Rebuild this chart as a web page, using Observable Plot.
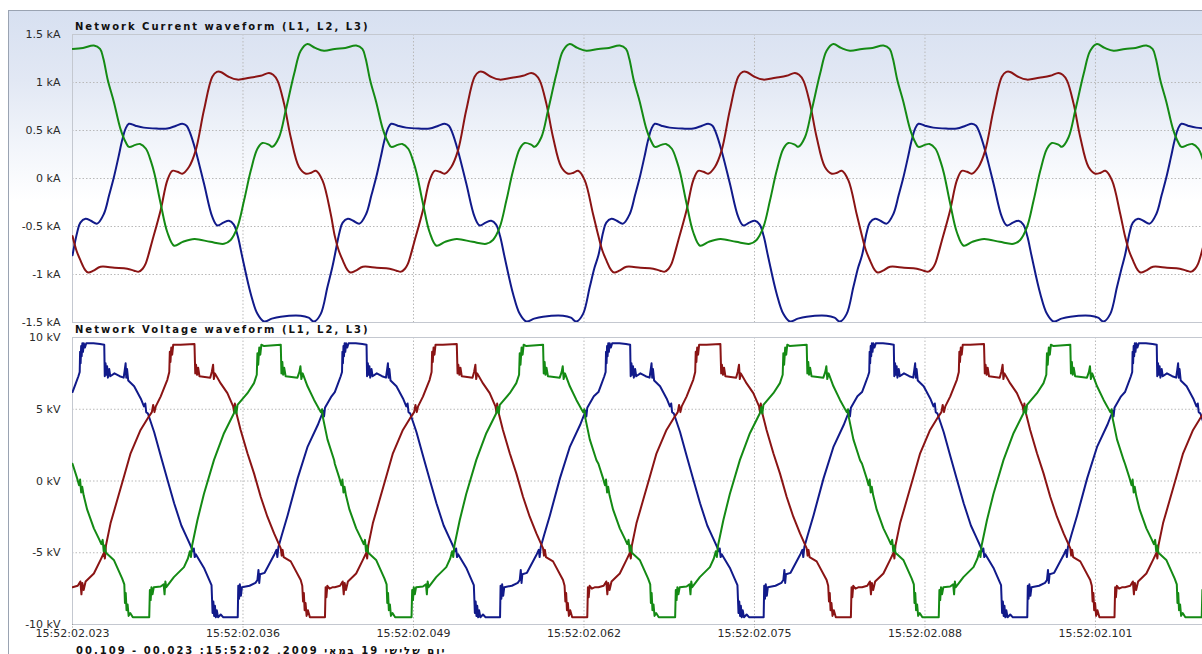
<!DOCTYPE html>
<html><head><meta charset="utf-8">
<script src="https://cdn.jsdelivr.net/npm/d3@7"></script>
<script src="https://cdn.jsdelivr.net/npm/@observablehq/plot@0.6"></script>
<style>
html,body{margin:0;padding:0;background:#fff;overflow:hidden;}
#wrap{position:relative;width:1202px;height:654px;overflow:hidden;background:#fff;}
#inner{position:absolute;left:8px;top:10px;right:0;bottom:0;border-left:1px solid #9aa3b2;border-top:1px solid #9aa3b2;
 background:linear-gradient(to bottom,#d7e0f1 0px,#e2e8f4 70px,#f3f6fb 140px,#ffffff 190px,#ffffff 100%);}
.title{position:absolute;left:75px;font:bold 10px "DejaVu Sans";line-height:12px;letter-spacing:2px;color:#111;white-space:nowrap;}
#footer{position:absolute;left:76px;top:645px;direction:rtl;font:bold 10px "DejaVu Sans";line-height:12px;letter-spacing:2px;color:#111;white-space:nowrap;}
#p1{position:absolute;left:0;top:26px;}
#p2{position:absolute;left:0;top:329px;}
</style>
</head><body>
<div id="wrap">
  <div id="inner"></div>
  <div id="p1"></div>
  <div id="p2"></div>
  <div class="title" style="top:21px">Network Current waveform (L1, L2, L3)</div>
  <div class="title" style="top:324px">Network Voltage waveform (L1, L2, L3)</div>
  <div id="footer">יום שלישי 19 במאי 2009, 15:52:02: 00.023 - 00.109</div>
</div>
<script>
// ---- axes / ticks (ms after 15:52:02) ----
const xDomain = [23, 109.16];
const xTicks = [23, 36, 49, 62, 75, 88, 101];
const kaTicks = [-1.5, -1, -0.5, 0, 0.5, 1, 1.5];
const kvTicks = [-10, -5, 0, 5, 10];
const phases = ["L1", "L2", "L3"];
const phaseColors = ["#111a8a", "#8a1414", "#148a14"];

// start time (ms) of each 50 Hz cycle as seen in the picture
const cycleStarts = [23.0, 43.0, 63.1, 83.2, 103.25];

// ---- current, one cycle per phase: [ms into cycle, kA] ----
const currentL1 = [[0.00,-0.80],[0.36,-0.56],[0.60,-0.46],[0.99,-0.42],[1.40,-0.44],[1.88,-0.47],[2.39,-0.37],[2.80,-0.17],[3.15,0.01],[3.50,0.22],[3.79,0.40],[4.05,0.52],[4.30,0.57],[4.80,0.55],[5.44,0.53],[6.40,0.52],[7.23,0.52],[7.90,0.55],[8.37,0.57],[8.70,0.55],[8.95,0.48],[9.39,0.29],[10.02,-0.05],[10.66,-0.40],[11.05,-0.49],[11.50,-0.46],[11.93,-0.44],[12.30,-0.48],[12.60,-0.60],[12.95,-0.82],[13.59,-1.20],[14.10,-1.41],[14.60,-1.49],[15.20,-1.46],[15.88,-1.44],[17.40,-1.43],[18.00,-1.45],[18.42,-1.49],[18.93,-1.41],[19.44,-1.13],[19.80,-0.93]];
const currentL2 = [[0.00,-0.60],[0.30,-0.75],[0.63,-0.86],[0.95,-0.95],[1.20,-0.98],[1.60,-0.96],[2.14,-0.92],[3.20,-0.93],[4.18,-0.94],[4.70,-0.96],[5.06,-0.97],[5.35,-0.94],[5.57,-0.89],[6.08,-0.65],[6.72,-0.33],[7.23,-0.02],[7.61,0.08],[8.00,0.07],[8.37,0.05],[8.88,0.12],[9.39,0.29],[10.02,0.71],[10.66,1.06],[11.00,1.11],[11.30,1.11],[11.90,1.06],[12.57,1.03],[13.50,1.05],[14.35,1.07],[14.98,1.10],[15.30,1.08],[15.63,1.02],[16.13,0.78],[16.64,0.43],[17.27,0.12],[17.79,0.05],[18.20,0.06],[18.55,0.08],[19.06,-0.02],[19.69,-0.37]];
const currentL3 = [[0.00,1.35],[0.80,1.36],[1.63,1.385],[2.10,1.35],[2.35,1.25],[2.70,1.02],[3.15,0.80],[3.65,0.52],[4.05,0.38],[4.30,0.33],[4.80,0.35],[5.15,0.36],[5.60,0.31],[6.00,0.17],[6.25,0.05],[6.72,-0.26],[7.23,-0.56],[7.75,-0.70],[8.40,-0.66],[9.30,-0.63],[10.50,-0.66],[11.55,-0.68],[12.06,-0.64],[12.57,-0.51],[13.08,-0.23],[13.59,0.08],[14.10,0.31],[14.48,0.37],[15.00,0.35],[15.24,0.33],[15.75,0.43],[16.26,0.71],[16.90,1.09],[17.40,1.33],[17.91,1.40],[18.50,1.36],[19.18,1.33]];

// ---- voltage, one cycle per phase: [ms into cycle, kV] ----
const voltageL1 = [[0.00,6.2],[0.25,6.8],[0.45,7.3],[0.55,7.6],[0.58,9.0],[0.62,8.2],[0.66,9.4],[0.70,8.7],[0.75,9.6],[0.80,9.0],[0.86,9.6],[0.95,9.3],[1.05,9.6],[1.60,9.6],[2.10,9.55],[2.42,9.5],[2.46,7.3],[2.52,8.2],[2.58,7.4],[2.64,8.0],[2.70,7.2],[2.80,7.8],[2.88,7.3],[3.20,7.5],[3.60,7.3],[3.90,7.2],[3.98,7.7],[4.05,8.2],[4.10,7.2],[4.16,7.8],[4.25,7.0],[4.70,6.6],[5.20,5.75],[5.45,5.2],[5.55,5.4],[5.62,4.8],[5.75,4.7],[6.23,3.4],[6.74,1.7],[7.25,0.05],[7.75,-1.55],[8.30,-3.1],[8.75,-4.0],[9.05,-4.6],[9.18,-4.9],[9.25,-4.7],[9.32,-5.3],[9.40,-5.1],[10.05,-6.1],[10.60,-7.25],[10.68,-9.2],[10.74,-8.4],[10.80,-9.4],[10.86,-8.7],[10.93,-9.5],[11.00,-9.0],[11.10,-9.5],[11.30,-9.3],[11.50,-9.5],[12.60,-9.5],[12.64,-7.3],[12.70,-8.2],[12.76,-7.2],[12.84,-8.0],[12.92,-7.4],[13.50,-7.3],[13.95,-7.1],[14.10,-6.9],[14.18,-6.2],[14.24,-7.1],[14.30,-6.5],[14.65,-6.4],[15.40,-5.1],[15.55,-4.8],[15.62,-5.3],[15.70,-4.6],[15.95,-3.8],[16.40,-2.4],[17.17,0.2],[17.93,2.4],[18.70,3.9],[19.00,4.6],[19.10,4.9],[19.18,4.5],[19.25,5.1],[19.75,5.9]];
const voltageL2 = [[0.00,-7.4],[0.40,-7.3],[0.60,-7.0],[0.68,-7.9],[0.75,-7.1],[0.85,-7.6],[1.00,-7.0],[1.63,-6.45],[2.14,-5.5],[2.40,-5.0],[2.47,-5.4],[2.55,-4.5],[2.90,-2.95],[3.41,-1.33],[3.92,0.3],[4.43,1.93],[5.19,3.56],[5.82,4.49],[6.05,4.8],[6.15,5.3],[6.25,4.8],[6.35,5.2],[6.72,5.88],[7.23,7.05],[7.38,7.6],[7.42,9.0],[7.47,8.3],[7.53,9.3],[7.60,8.8],[7.68,9.5],[8.24,9.5],[9.30,9.55],[9.36,7.5],[9.42,8.1],[9.50,7.4],[9.58,7.9],[9.68,7.3],[10.50,7.2],[10.62,7.6],[10.72,8.1],[10.78,7.1],[10.86,7.5],[11.30,6.8],[11.81,6.12],[12.25,5.2],[12.32,4.8],[12.38,5.4],[12.45,4.9],[12.82,3.56],[13.34,1.93],[13.84,0.53],[14.35,-1.1],[14.86,-2.49],[15.37,-3.65],[15.88,-4.7],[15.95,-5.2],[16.02,-4.8],[16.10,-5.3],[16.64,-5.6],[17.40,-6.9],[17.52,-7.3],[17.58,-8.4],[17.64,-7.8],[17.70,-9.0],[17.77,-8.5],[17.85,-9.4],[17.95,-9.0],[18.10,-9.5],[19.25,-9.5],[19.30,-7.4],[19.36,-8.1],[19.43,-7.3],[19.60,-7.5],[19.85,-7.4]];
const voltageL3 = [[0.00,1.2],[0.35,0.2],[0.50,-0.3],[0.58,0.1],[0.66,-0.8],[0.74,-0.4],[0.85,-1.0],[1.12,-2.0],[1.63,-3.3],[2.00,-4.0],[2.20,-4.4],[2.30,-4.1],[2.38,-4.9],[2.46,-4.5],[2.55,-5.0],[3.15,-5.5],[3.79,-6.8],[3.95,-7.2],[4.00,-8.5],[4.06,-7.8],[4.12,-9.0],[4.20,-8.6],[4.28,-9.4],[4.40,-9.2],[4.60,-9.5],[5.85,-9.5],[5.90,-7.6],[5.96,-8.3],[6.02,-7.4],[6.10,-7.9],[6.20,-7.4],[6.72,-7.35],[6.95,-7.2],[7.02,-7.9],[7.08,-7.0],[7.15,-7.4],[7.73,-6.7],[8.50,-6.0],[8.80,-5.4],[8.95,-4.9],[9.03,-5.3],[9.12,-4.5],[9.52,-2.75],[10.02,-0.9],[10.79,1.47],[11.55,3.33],[12.31,4.72],[12.42,5.15],[12.50,4.7],[12.58,5.3],[13.34,6.12],[13.84,6.82],[14.05,7.4],[14.10,8.9],[14.16,8.1],[14.24,9.3],[14.32,8.8],[14.40,9.5],[14.60,9.4],[15.88,9.5],[15.93,7.5],[16.00,8.3],[16.06,7.4],[16.14,7.9],[16.25,7.3],[17.15,7.2],[17.30,7.6],[17.38,8.0],[17.45,7.1],[17.55,7.5],[17.92,6.6],[18.42,5.65],[18.93,4.8],[19.03,5.0],[19.10,4.4],[19.44,2.9],[19.95,1.45]];

// ---- build tables for Plot ----
function build(cycle, phase) {
  return cycleStarts.flatMap(s => cycle.map(([tau, v]) => ({t: s + tau, v, phase})));
}
const currentData = [...build(currentL1, "L1"), ...build(currentL2, "L2"), ...build(currentL3, "L3")];
const voltageData = [...build(voltageL1, "L1"), ...build(voltageL2, "L2"), ...build(voltageL3, "L3")];

const fmtTime = t => "15:52:02." + String(Math.round(t)).padStart(3, "0");
const gridStyle = {stroke: "#b9b9b9", strokeOpacity: 1, strokeDasharray: "1.5,2"};
const borderColor = "#c4c8d0";
const svgStyle = {background: "transparent", fontFamily: "DejaVu Sans", fontSize: "11px", color: "#2a2a2a", overflow: "visible"};

const p1 = Plot.plot({
  width: 1202, height: 304, marginLeft: 72, marginRight: 0, marginTop: 8, marginBottom: 8,
  style: svgStyle,
  x: {domain: xDomain, axis: null, label: null},
  y: {domain: [-1.5, 1.5], axis: null, label: null},
  color: {domain: phases, range: phaseColors},
  marks: [
    Plot.gridX(xTicks, gridStyle),
    Plot.gridY(kaTicks, gridStyle),
    Plot.ruleY([-1.5, 1.5], {stroke: borderColor}),
    Plot.ruleX([23], {stroke: borderColor}),
    Plot.axisY(kaTicks, {tickSize: 0, tickPadding: 12, tickFormat: d => `${d} kA`, label: null}),
    Plot.line(currentData, {x: "t", y: "v", z: "phase", stroke: "phase", strokeWidth: 2, curve: "catmull-rom", clip: true})
  ]
});
document.getElementById("p1").append(p1);

const p2 = Plot.plot({
  width: 1202, height: 325, marginLeft: 72, marginRight: 0, marginTop: 8, marginBottom: 30,
  style: svgStyle,
  x: {domain: xDomain, axis: null, label: null},
  y: {domain: [-10, 10], axis: null, label: null},
  color: {domain: phases, range: phaseColors},
  marks: [
    Plot.gridX(xTicks, gridStyle),
    Plot.gridY(kvTicks, gridStyle),
    Plot.ruleY([-10, 10], {stroke: borderColor}),
    Plot.ruleX([23], {stroke: borderColor}),
    Plot.axisY(kvTicks, {tickSize: 0, tickPadding: 12, tickFormat: d => `${d} kV`, label: null}),
    Plot.axisX(xTicks, {tickSize: 5, tickPadding: 0, tickFormat: fmtTime, stroke: "#9a9a9a", strokeDasharray: "1,1.5", label: null}),
    Plot.line(voltageData, {x: "t", y: "v", z: "phase", stroke: "phase", strokeWidth: 2, clip: true})
  ]
});
document.getElementById("p2").append(p2);
</script>
</body></html>
